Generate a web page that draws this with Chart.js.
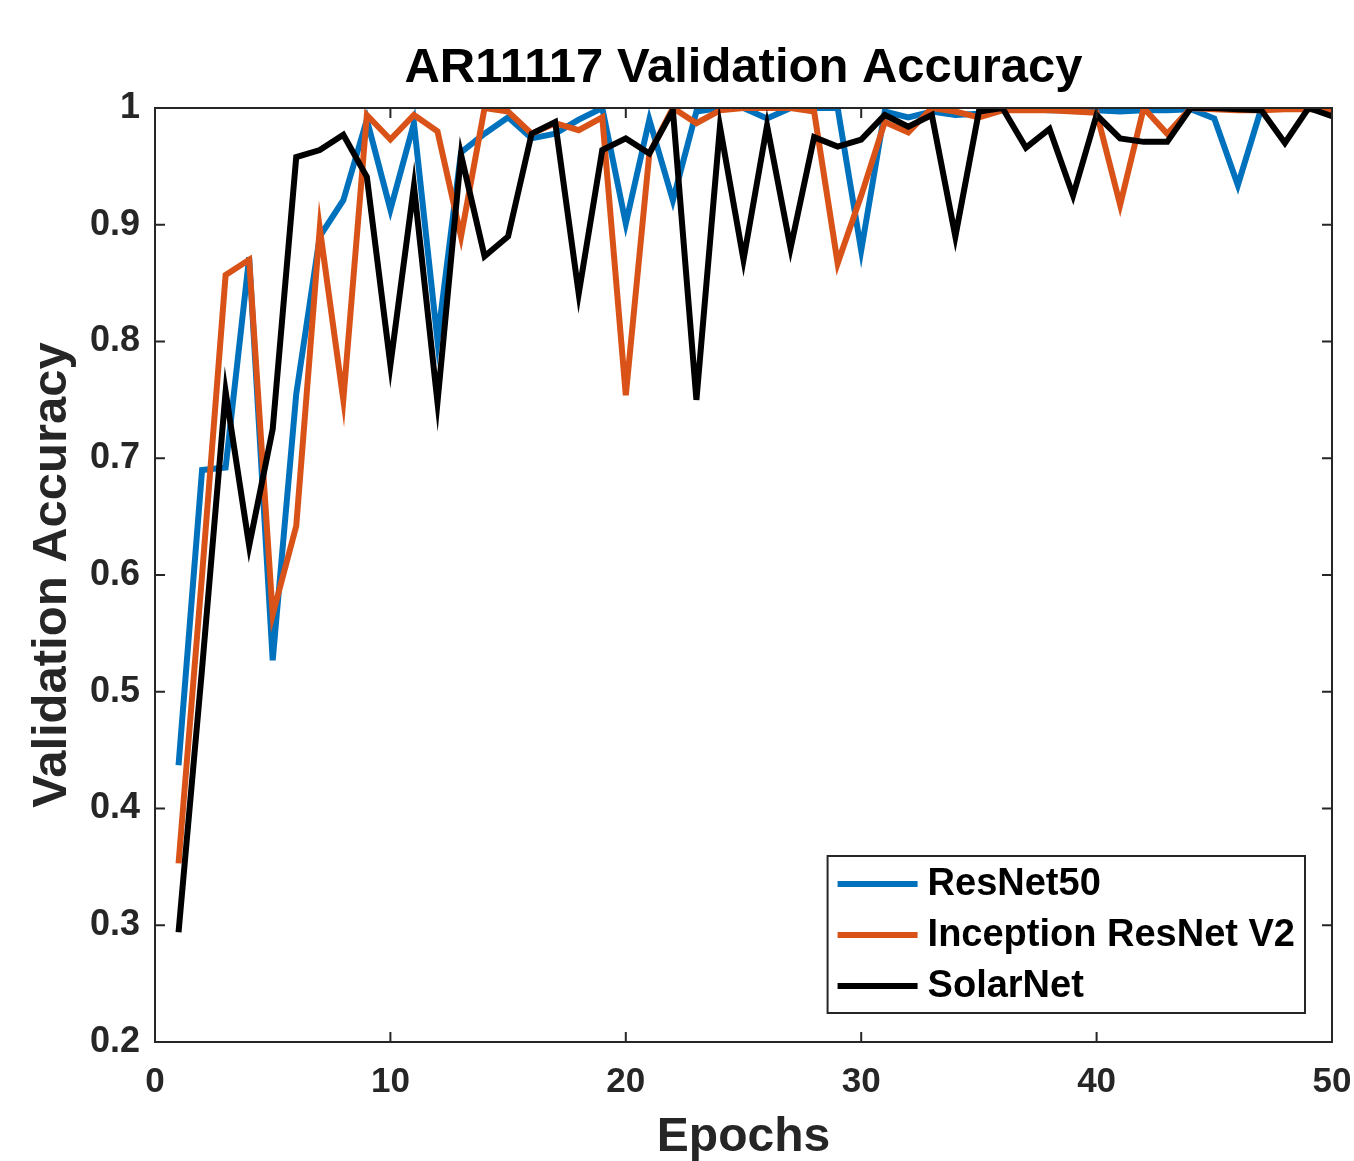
<!DOCTYPE html>
<html>
<head>
<meta charset="utf-8">
<title>AR11117 Validation Accuracy</title>
<script src="https://cdn.jsdelivr.net/npm/chart.js@4.4.1/dist/chart.umd.min.js"></script>
<style>
  html, body { margin: 0; padding: 0; background: #fff; }
  #wrap { width: 1354px; height: 1161px; position: relative; }
</style>
</head>
<body>
<div id="wrap"><canvas id="accChart"></canvas></div>
<script>
var epochs = [1, 2, 3, 4, 5, 6, 7, 8, 9, 10,
              11, 12, 13, 14, 15, 16, 17, 18, 19, 20,
              21, 22, 23, 24, 25, 26, 27, 28, 29, 30,
              31, 32, 33, 34, 35, 36, 37, 38, 39, 40,
              41, 42, 43, 44, 45, 46, 47, 48, 49, 50];

var resnet50 = [0.437, 0.690, 0.692, 0.872, 0.527, 0.755, 0.890, 0.921, 0.990, 0.913,
                0.987, 0.801, 0.962, 0.978, 0.992, 0.974, 0.978, 0.990, 1.000, 0.901,
                0.990, 0.921, 0.997, 1.000, 1.000, 0.991, 1.000, 1.000, 1.000, 0.878,
                0.997, 0.992, 0.997, 0.994, 0.995, 0.999, 0.999, 0.998, 0.998, 0.998,
                0.997, 0.998, 0.998, 0.999, 0.991, 0.934, 1.000, 1.000, 1.000, 1.000];

var inceptionV2 = [0.353, 0.600, 0.857, 0.870, 0.566, 0.642, 0.897, 0.750, 0.994, 0.973,
                   0.994, 0.980, 0.890, 1.000, 0.997, 0.978, 0.987, 0.981, 0.992, 0.754,
                   0.961, 1.000, 0.987, 0.998, 1.000, 1.000, 1.000, 0.997, 0.867, 0.925,
                   0.988, 0.979, 1.000, 0.997, 0.992, 0.998, 0.998, 0.998, 0.997, 0.996,
                   0.917, 1.000, 0.978, 1.000, 0.999, 0.998, 0.998, 0.999, 0.999, 0.998];

var solarNet = [0.294, 0.520, 0.757, 0.625, 0.725, 0.958, 0.964, 0.977, 0.941, 0.780,
                0.933, 0.748, 0.960, 0.873, 0.890, 0.978, 0.988, 0.841, 0.964, 0.974,
                0.961, 0.998, 0.750, 0.984, 0.870, 0.985, 0.880, 0.975, 0.967, 0.973,
                0.994, 0.984, 0.994, 0.890, 0.997, 1.000, 0.966, 0.982, 0.925, 0.994,
                0.974, 0.971, 0.971, 1.000, 1.000, 0.999, 0.998, 0.970, 1.000, 0.993];

var seriesNames = ['ResNet50', 'Inception ResNet V2', 'SolarNet'];
var seriesColors = ['#0072BD', '#D95319', '#000000'];
var chartTitle = 'AR11117 Validation Accuracy';

var FONT = '"Liberation Sans", Arial, Helvetica, sans-serif';
var AXIS_COLOR = '#262626';

function toPoints(values) {
    return epochs.map(function(e, i) { return { x: e, y: values[i] }; });
}

// title centred over the plot box (not the whole canvas)
var boxTitle = {
    id: 'boxTitle',
    afterDraw: function(chart) {
        var ctx = chart.ctx;
        var a = chart.chartArea;
        ctx.save();
        ctx.font = 'bold 49px ' + FONT;
        ctx.fillStyle = '#000';
        ctx.textAlign = 'center';
        ctx.textBaseline = 'middle';
        ctx.fillText(chartTitle, (a.left + a.right) / 2, 68);
        ctx.restore();
    }
};

// box around the plot + inward ticks on all four sides, like matlab
var matlabAxes = {
    id: 'matlabAxes',
    afterDraw: function(chart) {
        var ctx = chart.ctx;
        var a = chart.chartArea;
        var xs = chart.scales.x;
        var ys = chart.scales.y;
        var len = 10;
        ctx.save();
        ctx.strokeStyle = AXIS_COLOR;
        ctx.lineWidth = 2;
        ctx.beginPath();
        xs.ticks.forEach(function(t) {
            var px = xs.getPixelForValue(t.value);
            ctx.moveTo(px, a.bottom);
            ctx.lineTo(px, a.bottom - len);
            ctx.moveTo(px, a.top);
            ctx.lineTo(px, a.top + len);
        });
        ys.ticks.forEach(function(t) {
            var py = ys.getPixelForValue(t.value);
            ctx.moveTo(a.left, py);
            ctx.lineTo(a.left + len, py);
            ctx.moveTo(a.right, py);
            ctx.lineTo(a.right - len, py);
        });
        ctx.stroke();
        ctx.strokeRect(a.left, a.top, a.right - a.left, a.bottom - a.top);
        ctx.restore();
    }
};

// legend box in the lower right corner of the plot
var boxLegend = {
    id: 'boxLegend',
    afterDraw: function(chart) {
        var ctx = chart.ctx;
        var a = chart.chartArea;
        var sets = chart.data.datasets;
        ctx.save();
        ctx.font = 'bold 38px ' + FONT;
        var textW = 0;
        sets.forEach(function(d) {
            textW = Math.max(textW, ctx.measureText(d.label).width);
        });
        var lineLen = 80, rowH = 51;
        var w = 10 + lineLen + 10 + textW + 10;
        var h = rowH * sets.length + 4;
        var right = a.right - 27;
        var bottom = a.bottom - 29;
        var left = right - w;
        var top = bottom - h;
        ctx.fillStyle = '#fff';
        ctx.fillRect(left, top, w, h);
        ctx.strokeStyle = AXIS_COLOR;
        ctx.lineWidth = 2;
        ctx.strokeRect(left, top, w, h);
        ctx.textBaseline = 'middle';
        ctx.textAlign = 'left';
        sets.forEach(function(d, i) {
            var y = top + 28 + i * rowH;
            ctx.strokeStyle = d.borderColor;
            ctx.lineWidth = 6;
            ctx.beginPath();
            ctx.moveTo(left + 10, y);
            ctx.lineTo(left + 10 + lineLen, y);
            ctx.stroke();
            ctx.fillStyle = '#000';
            ctx.fillText(d.label, left + 10 + lineLen + 10, y + 1);
        });
        ctx.restore();
    }
};

var allSeries = [resnet50, inceptionV2, solarNet];
var datasets = allSeries.map(function(vals, i) {
    return {
        label: seriesNames[i],
        data: toPoints(vals),
        borderColor: seriesColors[i],
        backgroundColor: seriesColors[i],
        borderWidth: 6,
        pointRadius: 0,
        tension: 0,
        fill: false,
        borderJoinStyle: 'miter',
        order: allSeries.length - i   // later series on top
    };
});

var ctx = document.getElementById('accChart').getContext('2d');
var accChart = new Chart(ctx, {
    type: 'line',
    data: { datasets: datasets },
    options: {
        responsive: true,
        maintainAspectRatio: false,
        animation: false,
        layout: { padding: { left: 0, right: 22, top: 108, bottom: 0 } },
        plugins: {
            legend: { display: false },
            tooltip: { enabled: false },
            title: { display: false }
        },
        scales: {
            x: {
                type: 'linear',
                min: 0,
                max: 50,
                grid: { display: false, drawTicks: false },
                border: { display: false },
                ticks: {
                    stepSize: 10,
                    padding: 19,
                    color: AXIS_COLOR,
                    font: { family: FONT, size: 35, weight: 'bold' }
                },
                title: {
                    display: true,
                    text: 'Epochs',
                    color: AXIS_COLOR,
                    font: { family: FONT, size: 48, weight: 'bold' },
                    padding: { top: 0, bottom: -6 }
                },
                afterFit: function(scale) {
                    scale.height = 119;
                    // end labels may hang outside the plot box
                    scale.paddingLeft = 0;
                    scale.paddingRight = 0;
                }
            },
            y: {
                min: 0.2,
                max: 1,
                grid: { display: false, drawTicks: false },
                border: { display: false },
                ticks: {
                    stepSize: 0.1,
                    padding: 15,
                    color: AXIS_COLOR,
                    font: { family: FONT, size: 36, weight: 'bold' },
                    callback: function(v) { return String(Number(v.toFixed(1))); }
                },
                title: {
                    display: true,
                    text: 'Validation Accuracy',
                    color: AXIS_COLOR,
                    font: { family: FONT, size: 49, weight: 'bold' },
                    padding: { top: 23, bottom: 0 }
                },
                afterFit: function(scale) { scale.width = 155; }
            }
        }
    },
    plugins: [matlabAxes, boxLegend, boxTitle]
});
</script>
</body>
</html>
